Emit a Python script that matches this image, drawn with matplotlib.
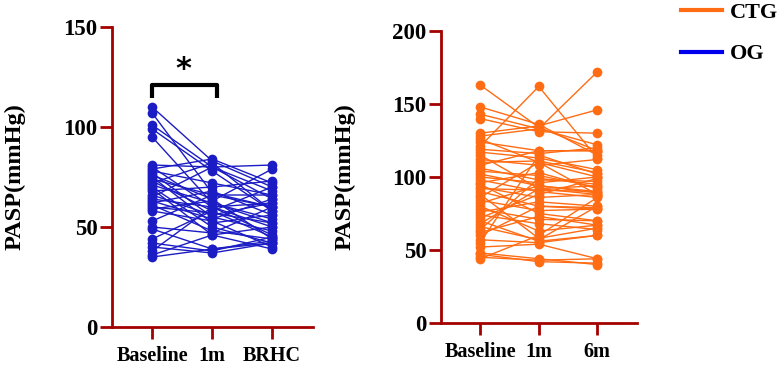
import matplotlib
matplotlib.use("Agg")
import matplotlib.pyplot as plt
from matplotlib.lines import Line2D

# OG group: PASP at Baseline, 1m, BRHC
og_labels = ["Baseline", "1m", "BRHC"]
og_baseline = [110, 107, 101, 99, 95, 81, 80, 79, 78, 77, 76, 75, 74, 73, 72, 71, 70, 69, 68,
               66, 65, 64, 63, 62, 61, 60, 59, 58, 53, 50, 49, 44, 42, 40, 38, 36, 35]
og_1m = [83, 67, 80, 78, 62, 80, 60, 84, 72, 55, 64, 52, 66, 58, 82, 62, 50, 46, 70,
         56, 80, 60, 54, 68, 48, 57, 63, 53, 66, 47, 39, 58, 38, 37, 60, 46, 39]
og_brhc = [70, 60, 64, 58, 52, 81, 62, 72, 66, 48, 44, 56, 60, 45, 58, 54, 42, 50, 73,
           62, 68, 46, 64, 56, 44, 52, 79, 40, 66, 60, 43, 70, 45, 42, 50, 39, 42]

# CTG group: PASP at Baseline, 1m, 6m
ctg_labels = ["Baseline", "1m", "6m"]
ctg_baseline = [163, 148, 143, 140, 130, 128, 121, 126, 124, 119, 117, 115, 112, 110, 108, 106,
                104, 102, 100, 98, 96, 95, 93, 92, 90, 88, 86, 84, 82, 80, 78, 76, 74, 72, 70,
                68, 66, 64, 62, 60, 57, 55, 52, 48, 47, 45, 44]
ctg_1m = [134, 136, 133, 131, 135, 133, 162, 110, 118, 116, 113, 92, 108, 111, 118, 98,
          101, 94, 96, 90, 103, 75, 86, 91, 80, 58, 110, 77, 94, 63, 71, 83, 68, 88, 56,
          92, 57, 99, 73, 80, 55, 115, 54, 44, 42, 43, 60]
ctg_6m = [118, 115, 122, 130, 146, 172, 113, 100, 118, 120, 105, 88, 112, 103, 118, 97,
          93, 90, 100, 86, 92, 70, 88, 90, 79, 65, 88, 78, 89, 67, 70, 80, 64, 99, 60,
          94, 80, 95, 67, 78, 60, 102, 44, 40, 41, 44, 86]

blue = "#1c1cc4"
orange = "#ff6c14"
axis_red = "#a30000"

plt.rcParams["font.family"] = ["Liberation Serif", "DejaVu Serif"]
plt.rcParams["font.weight"] = "bold"

fig = plt.figure(figsize=(7.77, 3.68), dpi=100)
ax1 = fig.add_axes([0.1441, 0.1114, 0.2587, 0.8152])
ax2 = fig.add_axes([0.5676, 0.1223, 0.2523, 0.7935])


def draw_panel(ax, labels, series, color, ymax, step):
    xs = list(range(len(labels)))
    for vals in zip(*series):
        ax.plot(xs, vals, color=color, linewidth=1.0, marker="o", markersize=7,
                markeredgewidth=0, clip_on=False)
    ax.set_xlim(-0.67, 2.68)
    ax.set_ylim(0, ymax)
    ax.set_yticks(range(0, ymax + 1, step))
    ax.set_xticks(xs)
    ax.set_xticklabels(labels)
    for s in ["top", "right"]:
        ax.spines[s].set_visible(False)
    for s in ["left", "bottom"]:
        ax.spines[s].set_color(axis_red)
        ax.spines[s].set_linewidth(2)
    ax.tick_params(axis="both", direction="out", length=8.5, width=2, color=axis_red)
    ax.tick_params(axis="y", labelsize=16.5, pad=2)
    ax.tick_params(axis="x", labelsize=14.5, pad=5)
    ax.set_ylabel("PASP(mmHg)", fontsize=17.5, fontweight="bold")


draw_panel(ax1, og_labels, [og_baseline, og_1m, og_brhc], blue, 150, 50)
draw_panel(ax2, ctg_labels, [ctg_baseline, ctg_1m, ctg_6m], orange, 200, 50)
ax1.yaxis.set_label_coords(-0.43, 0.5)
ax2.yaxis.set_label_coords(-0.435, 0.5)

# significance bracket Baseline vs 1m
ax1.plot([0, 0, 1.08, 1.08], [114.5, 121, 121, 114.5], color="black", linewidth=3,
         solid_capstyle="butt", clip_on=False)
ax1.text(0.52, 129, "*", ha="center", va="center", fontsize=22, fontweight="bold",
         family="DejaVu Sans")

handles = [Line2D([], [], color=orange, linewidth=3),
           Line2D([], [], color="#0000ee", linewidth=3)]
fig.legend(handles, ["CTG", "OG"], loc="upper left", bbox_to_anchor=(0.874, 1.0),
           frameon=False, fontsize=16, handlelength=1.85, handletextpad=0.35,
           labelspacing=0.95, borderpad=0.1, borderaxespad=0)

fig.savefig("out.png", dpi=100)
